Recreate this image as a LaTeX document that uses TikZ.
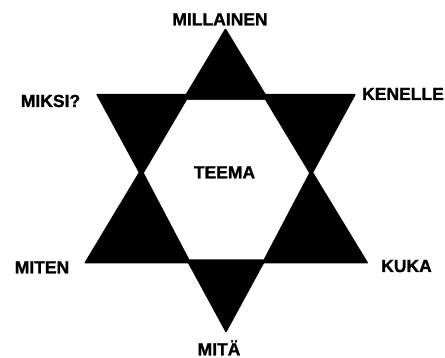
\documentclass[tikz,border=0pt]{standalone}
\usepackage{fontspec}
\setmainfont{Liberation Sans}
\newfontfamily\lblfont{Liberation Sans Bold}[FakeBold=1.3]
\begin{document}
\begin{tikzpicture}[x=1pt,y=-1pt,
  lbl/.style={anchor=base,inner sep=0pt,font=\lblfont\fontsize{17.5}{20}\selectfont,text=black},
  tri/.style={fill=black,rounded corners=1pt}]
\useasboundingbox (0,0) rectangle (445,358);
\fill[white] (0,0) rectangle (445,358);
% upward triangle
\fill[tri] (225.5,28) -- (84,263.5) -- (368.5,263.5) -- cycle;
% downward triangle
\fill[tri] (96,94) -- (356,94) -- (226,333) -- cycle;
% central hexagon
\fill[white] (187,100) -- (265,100) -- (309,173) -- (263.5,259.5) -- (189.5,259.5) -- (144,173) -- cycle;
\node[lbl] (millainen) at (220,25.3) {MILLAINEN};
\node[lbl] (miksi) at (50.5,107) {MIKSI?};
\node[lbl] (kenelle) at (403,100) {KENELLE};
\node[lbl] (miten) at (42,273.3) {MITEN};
\node[lbl] (kuka) at (406.5,272) {KUKA};
\node[lbl] (mita) at (219,355.3) {MITÄ};
\node[lbl] (teema) at (224.5,178.3) {TEEMA};
\end{tikzpicture}
\end{document}
